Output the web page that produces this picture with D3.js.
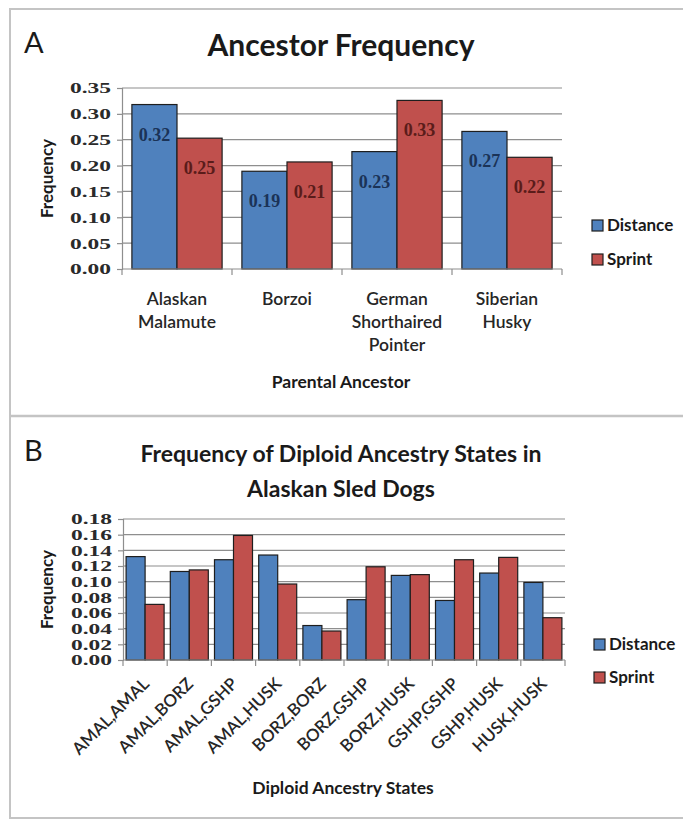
<!DOCTYPE html>
<html>
<head>
<meta charset="utf-8">
<script src="https://cdn.jsdelivr.net/npm/d3@7/dist/d3.min.js"></script>
<style>
  html, body { margin: 0; padding: 0; background: #fff; }
  svg { display: block; }
</style>
</head>
<body>
<svg id="fig" width="683" height="821"></svg>
<script>
// ---- Panel A: ancestor frequency by parental breed ----
const categoriesA = ["Alaskan Malamute", "Borzoi", "German Shorthaired Pointer", "Siberian Husky"];
const distanceA = [0.318, 0.189, 0.227, 0.266];
const sprintA   = [0.253, 0.207, 0.326, 0.216];
const ticksA = [0, 0.05, 0.10, 0.15, 0.20, 0.25, 0.30, 0.35];

// ---- Panel B: diploid ancestry states ----
const categoriesB = ["AMAL,AMAL", "AMAL,BORZ", "AMAL,GSHP", "AMAL,HUSK", "BORZ,BORZ",
                     "BORZ,GSHP", "BORZ,HUSK", "GSHP,GSHP", "GSHP,HUSK", "HUSK,HUSK"];
const distanceB = [0.132, 0.113, 0.128, 0.134, 0.044, 0.077, 0.108, 0.076, 0.111, 0.099];
const sprintB   = [0.071, 0.115, 0.159, 0.097, 0.037, 0.119, 0.109, 0.128, 0.131, 0.054];
const ticksB = [0, 0.02, 0.04, 0.06, 0.08, 0.10, 0.12, 0.14, 0.16, 0.18];

const seriesNames = ["Distance", "Sprint"];

const COLORS = { Distance: "#4f81bd", Sprint: "#c0504d" };
const LABEL_COLORS = { Distance: "#1b3357", Sprint: "#5a1c1a" };
const SANS = "Lato, 'Open Sans', sans-serif";
const SERIF = "'Liberation Serif', 'DejaVu Serif', serif";

const svg = d3.select("#fig");

// outer frame and the divider between the two panels
svg.append("rect")
  .attr("x", 10).attr("y", 9).attr("width", 700).attr("height", 809)
  .attr("fill", "none").attr("stroke", "#c4c4c4").attr("stroke-width", 2);
svg.append("line")
  .attr("x1", 10).attr("x2", 683).attr("y1", 416).attr("y2", 416)
  .attr("stroke", "#c4c4c4").attr("stroke-width", 2.5);

function drawPanel(cfg) {
  const g = svg.append("g");
  const x = d3.scaleBand().domain(cfg.categories)
    .range([cfg.x0, cfg.x1]).paddingInner(cfg.pad).paddingOuter(cfg.pad / 2);
  const xs = d3.scaleBand().domain(seriesNames).range([0, x.bandwidth()]);
  const y = d3.scaleLinear().domain([0, cfg.ticks[cfg.ticks.length - 1]])
    .range([cfg.y0, cfg.y1]);

  // horizontal gridlines
  g.append("g").selectAll("line").data(cfg.ticks.filter(t => t > 0)).join("line")
    .attr("x1", cfg.x0).attr("x2", cfg.x1)
    .attr("y1", d => y(d)).attr("y2", d => y(d))
    .attr("stroke", "#8e8e8e").attr("stroke-width", 1.2);

  // y axis with outside tick marks
  const yAxis = d3.axisLeft(y).tickValues(cfg.ticks).tickFormat(d3.format(".2f"))
    .tickSize(5).tickPadding(6);
  const ya = g.append("g").attr("transform", `translate(${cfg.x0},0)`).call(yAxis);
  ya.select(".domain").attr("stroke", "#8e8e8e").attr("stroke-width", 1.2);
  ya.selectAll(".tick line").attr("stroke", "#8e8e8e").attr("stroke-width", 1.2);
  ya.selectAll(".tick text")
    .attr("font-family", SERIF).attr("font-weight", "bold")
    .attr("font-size", 15.5).attr("fill", "#2a2a2a")
    .attr("textLength", 41).attr("lengthAdjust", "spacingAndGlyphs");

  // bars
  const rows = cfg.categories.map((c, i) => ({ cat: c, Distance: cfg.distance[i], Sprint: cfg.sprint[i] }));
  const grp = g.append("g").selectAll("g").data(rows).join("g")
    .attr("transform", d => `translate(${x(d.cat)},0)`);
  grp.selectAll("rect").data(d => seriesNames.map(s => ({ s, v: d[s] }))).join("rect")
    .attr("x", d => xs(d.s)).attr("width", xs.bandwidth())
    .attr("y", d => y(d.v)).attr("height", d => y(0) - y(d.v))
    .attr("fill", d => COLORS[d.s]).attr("stroke", "#1e1e1e").attr("stroke-width", 1.2);

  if (cfg.valueLabels) {
    grp.selectAll("text.val").data(d => seriesNames.map(s => ({ s, v: d[s] }))).join("text")
      .attr("class", "val")
      .attr("x", d => xs(d.s) + xs.bandwidth() / 2)
      .attr("y", d => y(d.v) + 36)
      .attr("text-anchor", "middle")
      .attr("font-family", SERIF).attr("font-weight", "bold").attr("font-size", 18)
      .attr("fill", d => LABEL_COLORS[d.s])
      .text(d => d3.format(".2f")(d.v));
  }

  // x axis line with tick marks between categories
  const xa = g.append("g");
  xa.append("line").attr("x1", cfg.x0).attr("x2", cfg.x1)
    .attr("y1", y(0)).attr("y2", y(0)).attr("stroke", "#8e8e8e").attr("stroke-width", 1.2);
  const bounds = cfg.categories.map(c => x(c) - x.step() * cfg.pad / 2).concat([cfg.x1]);
  xa.selectAll("line.tk").data(bounds).join("line").attr("class", "tk")
    .attr("x1", d => d).attr("x2", d => d)
    .attr("y1", y(0)).attr("y2", y(0) + 6)
    .attr("stroke", "#8e8e8e").attr("stroke-width", 1.2);

  // category labels
  if (cfg.rotate) {
    xa.selectAll("text").data(cfg.categories).join("text")
      .attr("transform", d => `translate(${x(d) + x.bandwidth() / 2 + 5},${y(0) + 25}) rotate(-45)`)
      .attr("text-anchor", "end")
      .attr("font-family", SANS).attr("font-weight", 600).attr("font-size", 17)
      .attr("fill", "#262626")
      .text(d => d);
  } else {
    const t = xa.selectAll("text").data(cfg.categories).join("text")
      .attr("text-anchor", "middle")
      .attr("font-family", SANS).attr("font-weight", 600).attr("font-size", 17.5)
      .attr("fill", "#262626");
    t.selectAll("tspan").data(d => d.split(" ").map((w, i) => ({ w, i, c: d }))).join("tspan")
      .attr("x", d => x(d.c) + x.bandwidth() / 2)
      .attr("y", d => y(0) + 36 + d.i * 23)
      .text(d => d.w);
  }

  // axis titles
  g.append("text")
    .attr("transform", `translate(53,${(cfg.y0 + cfg.y1) / 2}) rotate(-90)`)
    .attr("text-anchor", "middle")
    .attr("font-family", SANS).attr("font-weight", "bold").attr("font-size", 17)
    .attr("fill", "#1a1a1a").text("Frequency");
  g.append("text")
    .attr("x", (cfg.x0 + cfg.x1) / 2 - 1).attr("y", cfg.xTitleY)
    .attr("text-anchor", "middle")
    .attr("font-family", SANS).attr("font-weight", "bold").attr("font-size", 17.5)
    .attr("fill", "#1a1a1a").text(cfg.xTitle);

  // panel letter and chart title
  g.append("text").attr("x", 24).attr("y", cfg.letterY)
    .attr("font-family", SANS).attr("font-weight", 400).attr("font-size", 29)
    .attr("fill", "#1a1a1a").text(cfg.letter);
  cfg.title.forEach((line, i) => {
    g.append("text").attr("x", 341).attr("y", cfg.titleY + i * cfg.titleGap)
      .attr("text-anchor", "middle")
      .attr("font-family", SANS).attr("font-weight", "bold").attr("font-size", cfg.titleSize)
      .attr("fill", "#1a1a1a").text(line);
  });

  // legend
  seriesNames.forEach((s, i) => {
    const ly = cfg.legendY + i * cfg.legendGap;
    g.append("rect").attr("x", cfg.legendX).attr("y", ly - 11).attr("width", 11).attr("height", 11)
      .attr("fill", COLORS[s]).attr("stroke", "#1e1e1e").attr("stroke-width", 1.2);
    g.append("text").attr("x", cfg.legendX + 15).attr("y", ly)
      .attr("font-family", SANS).attr("font-weight", "bold").attr("font-size", 17)
      .attr("fill", "#1a1a1a").text(s);
  });
}

drawPanel({
  categories: categoriesA, distance: distanceA, sprint: sprintA, ticks: ticksA,
  x0: 122, x1: 562, y0: 269, y1: 88, pad: 0.18, valueLabels: true, rotate: false,
  xTitle: "Parental Ancestor", xTitleY: 388,
  letter: "A", letterY: 53, title: ["Ancestor Frequency"], titleY: 56, titleGap: 0, titleSize: 30,
  legendX: 592, legendY: 231, legendGap: 34
});

drawPanel({
  categories: categoriesB, distance: distanceB, sprint: sprintB, ticks: ticksB,
  x0: 123, x1: 565, y0: 660, y1: 519, pad: 0.14, valueLabels: false, rotate: true,
  xTitle: "Diploid Ancestry States", xTitleY: 794,
  letter: "B", letterY: 461, title: ["Frequency of Diploid Ancestry States in", "Alaskan Sled Dogs"],
  titleY: 462, titleGap: 35, titleSize: 23,
  legendX: 594, legendY: 650, legendGap: 33
});
</script>
</body>
</html>
